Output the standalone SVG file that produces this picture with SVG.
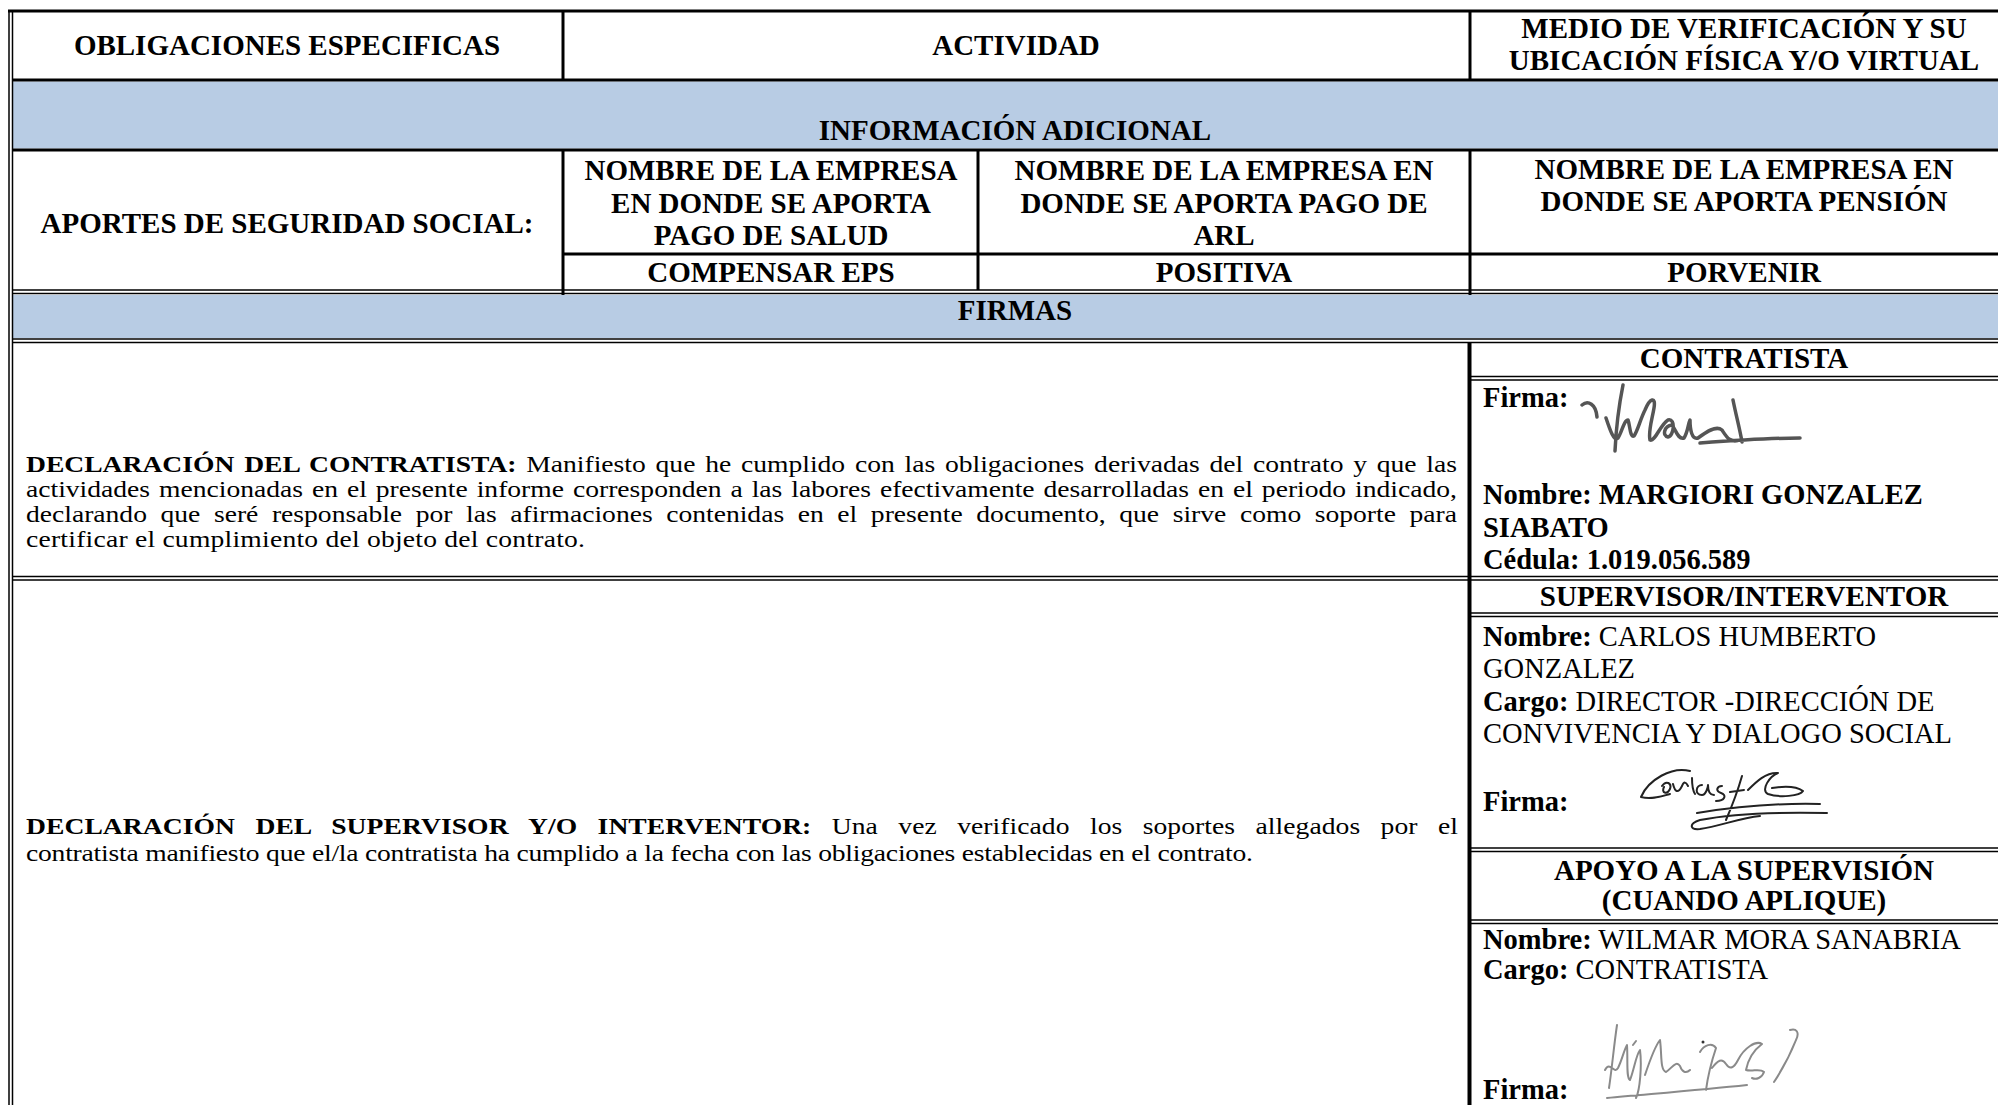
<svg xmlns="http://www.w3.org/2000/svg" width="1998" height="1105" viewBox="0 0 1998 1105">
<style>
text{font-family:"Liberation Serif","Times New Roman",serif;fill:#000}
.hdr{font-weight:bold;font-size:29px;text-anchor:middle}
.fld{font-size:28.5px}
.b{font-weight:bold}
.body{font-size:23px}
.ln{stroke:#000;stroke-width:3;fill:none}
.dl{stroke:#000;stroke-width:1.5;fill:none}
.vt{stroke:#000;stroke-width:4;fill:none}
.blue{fill:#B8CCE4}
.sig{fill:none;stroke-linecap:round;stroke-linejoin:round}
</style>
<rect width="1998" height="1105" fill="#fff"/>
<g id="bands">
<rect class="blue" x="13" y="81.5" width="1985" height="67"/>
<rect class="blue" x="13" y="295" width="1985" height="43"/>
</g>
<g id="connectors">
<line class="dl" x1="9" y1="10" x2="9" y2="1105"/>
<line class="dl" x1="12.5" y1="10" x2="12.5" y2="1105"/>
<line class="ln" x1="8" y1="11" x2="1998" y2="11"/>
<line class="ln" x1="12" y1="80" x2="1998" y2="80"/>
<line class="ln" x1="12" y1="150" x2="1998" y2="150"/>
<line class="ln" x1="563" y1="254" x2="1998" y2="254"/>
<line class="dl" x1="12" y1="290" x2="1998" y2="290"/>
<line class="dl" x1="12" y1="293.5" x2="1998" y2="293.5"/>
<line class="dl" x1="12" y1="339" x2="1998" y2="339"/>
<line class="dl" x1="12" y1="342.5" x2="1998" y2="342.5"/>
<line class="dl" x1="1470" y1="376.5" x2="1998" y2="376.5"/>
<line class="dl" x1="1470" y1="380" x2="1998" y2="380"/>
<line class="dl" x1="12" y1="576.5" x2="1998" y2="576.5"/>
<line class="dl" x1="12" y1="580" x2="1998" y2="580"/>
<line class="dl" x1="1470" y1="613" x2="1998" y2="613"/>
<line class="dl" x1="1470" y1="616.5" x2="1998" y2="616.5"/>
<line class="dl" x1="1470" y1="848" x2="1998" y2="848"/>
<line class="dl" x1="1470" y1="851.5" x2="1998" y2="851.5"/>
<line class="dl" x1="1470" y1="920" x2="1998" y2="920"/>
<line class="dl" x1="1470" y1="923.5" x2="1998" y2="923.5"/>
<line class="ln" x1="563" y1="11" x2="563" y2="80"/>
<line class="ln" x1="563" y1="150" x2="563" y2="295"/>
<line class="ln" x1="978" y1="150" x2="978" y2="290"/>
<line class="ln" x1="1470" y1="11" x2="1470" y2="80"/>
<line class="ln" x1="1470" y1="150" x2="1470" y2="295"/>
<line class="vt" x1="1469.5" y1="342" x2="1469.5" y2="1105"/>
</g>
<g id="header">
<text class="hdr" x="287" y="55">OBLIGACIONES ESPECIFICAS</text>
<text class="hdr" x="1016" y="55">ACTIVIDAD</text>
<text class="hdr" x="1744" y="38">MEDIO DE VERIFICACIÓN Y SU</text>
<text class="hdr" x="1744" y="70">UBICACIÓN FÍSICA Y/O VIRTUAL</text>
</g>
<g id="info-adicional">
<text class="hdr" x="1015" y="140">INFORMACIÓN ADICIONAL</text>
</g>
<g id="aportes">
<text class="hdr" x="287" y="233">APORTES DE SEGURIDAD SOCIAL:</text>
<text class="hdr" x="771" y="180">NOMBRE DE LA EMPRESA</text>
<text class="hdr" x="771" y="212.5">EN DONDE SE APORTA</text>
<text class="hdr" x="771" y="245">PAGO DE SALUD</text>
<text class="hdr" x="1224" y="180">NOMBRE DE LA EMPRESA EN</text>
<text class="hdr" x="1224" y="212.5">DONDE SE APORTA PAGO DE</text>
<text class="hdr" x="1224" y="245">ARL</text>
<text class="hdr" x="1744" y="179">NOMBRE DE LA EMPRESA EN</text>
<text class="hdr" x="1744" y="211">DONDE SE APORTA PENSIÓN</text>
<text class="hdr" x="771" y="282">COMPENSAR EPS</text>
<text class="hdr" x="1224" y="282">POSITIVA</text>
<text class="hdr" x="1744" y="282">PORVENIR</text>
</g>
<g id="firmas">
<text class="hdr" x="1015" y="320">FIRMAS</text>
</g>
<g id="declaracion-contratista">
<text class="body" transform="translate(26 472) scale(1.2 1)" textLength="1192.5" lengthAdjust="spacing" style="word-spacing:2.4px"><tspan class="b">DECLARACIÓN DEL CONTRATISTA:</tspan> Manifiesto que he cumplido con las obligaciones derivadas del contrato y que las</text>
<text class="body" transform="translate(26 497) scale(1.2 1)" textLength="1192.5" lengthAdjust="spacing" style="word-spacing:1.7px">actividades mencionadas en el presente informe corresponden a las labores efectivamente desarrolladas en el periodo indicado,</text>
<text class="body" transform="translate(26 522) scale(1.2 1)" textLength="1192.5" lengthAdjust="spacing" style="word-spacing:5.6px">declarando que seré responsable por las afirmaciones contenidas en el presente documento, que sirve como soporte para</text>
<text class="body" transform="translate(26 547) scale(1.2 1)" textLength="465.8" lengthAdjust="spacing">certificar el cumplimiento del objeto del contrato.</text>
</g>
<g id="firma-contratista">
<text class="hdr" x="1744" y="368">CONTRATISTA</text>
<text class="fld b" x="1483" y="407">Firma:</text>
<path class="sig" stroke="#555" stroke-width="3.5" d="M1582,405 C1588,400 1596,404 1597,417 M1623,385 C1619,405 1616,430 1615,451 M1606,418 C1610,430 1614,442 1618,438 C1622,432 1624,420 1628,420 C1630,425 1630,438 1634,436 C1638,430 1640,420 1645,410 C1650,398 1656,396 1654,408 C1652,420 1648,432 1650,440 C1655,442 1660,425 1668,420 C1676,418 1674,436 1668,437 C1662,436 1664,426 1672,425 C1676,430 1678,440 1684,438 C1688,432 1688,424 1690,420 C1690,430 1692,440 1698,438 C1706,432 1716,425 1722,430 C1726,436 1730,444 1740,440 M1733,400 C1736,415 1740,430 1742,442 M1700,443 C1740,440 1770,438 1800,438"/>
<text class="fld b" x="1483" y="504">Nombre: MARGIORI GONZALEZ</text>
<text class="fld b" x="1483" y="537">SIABATO</text>
<text class="fld b" x="1483" y="569">Cédula: 1.019.056.589</text>
</g>
<g id="declaracion-supervisor">
<text class="body" transform="translate(26 834) scale(1.2 1)" textLength="1193.3" lengthAdjust="spacing" style="word-spacing:11.2px"><tspan class="b">DECLARACIÓN DEL SUPERVISOR Y/O INTERVENTOR:</tspan> Una vez verificado los soportes allegados por el</text>
<text class="body" transform="translate(26 861) scale(1.2 1)" textLength="1022.5" lengthAdjust="spacing">contratista manifiesto que el/la contratista ha cumplido a la fecha con las obligaciones establecidas en el contrato.</text>
</g>
<g id="firma-supervisor">
<text class="hdr" x="1744" y="606">SUPERVISOR/INTERVENTOR</text>
<text class="fld" x="1483" y="646"><tspan class="b">Nombre:</tspan> CARLOS HUMBERTO</text>
<text class="fld" x="1483" y="678">GONZALEZ</text>
<text class="fld" x="1483" y="711"><tspan class="b">Cargo:</tspan> DIRECTOR -DIRECCIÓN DE</text>
<text class="fld" x="1483" y="743">CONVIVENCIA Y DIALOGO SOCIAL</text>
<text class="fld b" x="1483" y="811">Firma:</text>
<path class="sig" stroke="#222" stroke-width="2" d="M1690,771 C1672,766 1648,780 1641,797 C1652,800 1662,796 1670,794 M1662,786 c4,-6 10,-3 8,3 c-3,6 -9,4 -6,-2 M1673,784 c2,8 5,10 9,2 c2,-5 4,-4 6,0 M1692,778 c0,8 1,13 3,16 M1702,785 c-6,0 -8,10 0,10 c4,0 6,-8 6,-10 c0,6 2,10 6,10 M1722,786 c-5,0 -7,5 -1,7 c6,2 4,8 -5,8 M1742,776 C1738,790 1732,806 1726,820 M1730,792 l14,-2 M1748,790 C1756,782 1766,772 1778,773 C1770,776 1760,790 1768,794 C1780,798 1800,796 1803,791 C1796,786 1784,786 1772,788 M1697,813 C1740,806 1780,803 1820,804 M1827,813 C1780,812 1730,814 1700,820 C1688,824 1690,830 1700,829 C1720,826 1740,818 1760,816"/>
</g>
<g id="apoyo-supervision">
<text class="hdr" x="1744" y="880">APOYO A LA SUPERVISIÓN</text>
<text class="hdr" x="1744" y="910">(CUANDO APLIQUE)</text>
<text class="fld" x="1483" y="949"><tspan class="b">Nombre:</tspan> WILMAR MORA SANABRIA</text>
<text class="fld" x="1483" y="979"><tspan class="b">Cargo:</tspan> CONTRATISTA</text>
<text class="fld b" x="1483" y="1099">Firma:</text>
<path class="sig" stroke="#8a8a8a" stroke-width="2" d="M1617,1025 C1614,1045 1612,1068 1609,1088 M1605,1070 C1610,1060 1614,1075 1618,1068 C1622,1060 1624,1050 1627,1045 C1628,1060 1626,1078 1630,1080 C1634,1070 1636,1055 1640,1050 C1642,1065 1640,1090 1636,1098 M1633,1045 l3,-4 M1645,1075 C1650,1060 1656,1045 1660,1040 C1662,1055 1660,1070 1666,1072 C1672,1068 1676,1060 1680,1066 C1682,1072 1686,1074 1690,1070 M1700,1052 C1704,1045 1712,1042 1716,1048 C1712,1060 1708,1075 1706,1090 M1712,1068 C1718,1060 1722,1058 1726,1064 C1730,1070 1734,1068 1738,1060 C1744,1048 1756,1040 1762,1044 C1754,1050 1748,1060 1746,1070 C1752,1072 1760,1068 1764,1072 C1762,1078 1756,1080 1752,1078 M1790,1030 C1796,1028 1800,1032 1796,1040 C1790,1055 1782,1070 1774,1082 M1607,1098 C1650,1094 1700,1090 1747,1085"/>
<circle cx="1703" cy="1042" r="1.5" fill="#333"/>
</g>
</svg>
